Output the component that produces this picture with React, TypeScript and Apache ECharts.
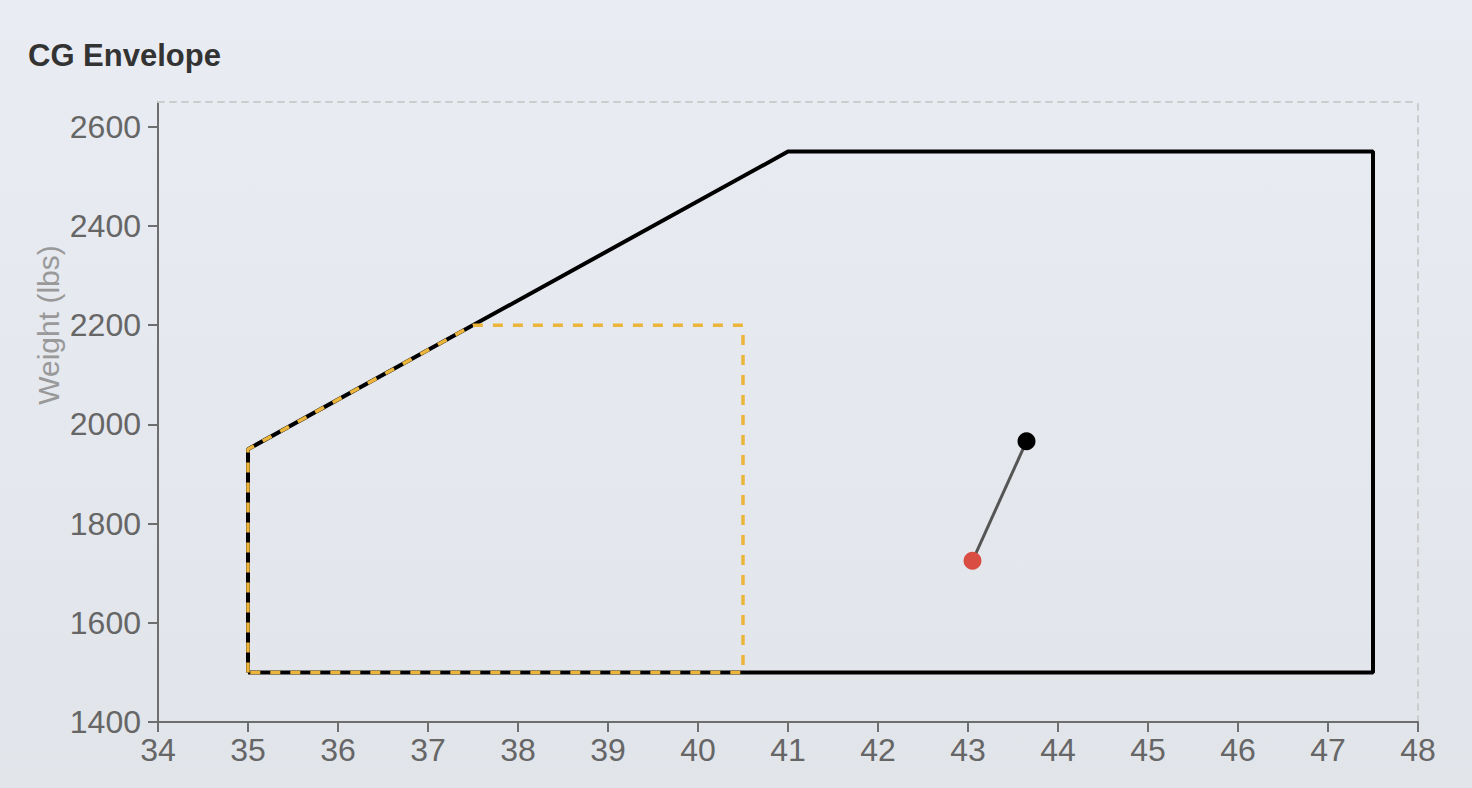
import React, { useEffect, useRef } from "react";
import * as echarts from "echarts";

const envelopePoints: number[][] = [
  [35, 1500], [35, 1950], [41, 2550], [47.5, 2550], [47.5, 1500], [35, 1500],
];
const utilityPoints: number[][] = [
  [35, 1500], [35, 1950], [37.5, 2200], [40.5, 2200], [40.5, 1500], [35, 1500],
];
const cgPath: number[][] = [
  [43.05, 1725], [43.65, 1966],
];
const startPoint: number[][] = [[43.05, 1725]];
const endPoint: number[][] = [[43.65, 1966]];
const yTicks: number[] = [1400, 1600, 1800, 2000, 2200, 2400, 2600];

const FONT = "'Liberation Sans', Arial, Helvetica, sans-serif";

export default function App() {
  const ref = useRef<HTMLDivElement>(null);
  useEffect(() => {
    document.body.style.margin = "0";
    if (!ref.current) return;
    const chart = echarts.init(ref.current, null, { renderer: "svg" });
    const axisCol = "#6e6e6e";
    chart.setOption({
      animation: false,
      title: {
        text: "CG Envelope",
        left: 23,
        top: 35,
        textStyle: { fontSize: 31, fontWeight: "bold", color: "#333", fontFamily: FONT },
      },
      grid: { left: 158, right: 54, top: 102, bottom: 66 },
      xAxis: [
        {
          type: "value",
          min: 34,
          max: 48,
          interval: 1,
          position: "bottom",
          axisLine: { lineStyle: { color: axisCol, width: 2 } },
          axisTick: { length: 10, lineStyle: { color: axisCol, width: 2 } },
          axisLabel: { fontSize: 32, color: "#666", margin: 12, fontFamily: FONT },
          splitLine: { show: false },
        },
        {
          type: "value",
          min: 34,
          max: 48,
          position: "top",
          axisLine: { show: true, lineStyle: { color: "#cccccc", width: 2, type: [6, 6] } },
          axisTick: { show: false },
          axisLabel: { show: false },
          splitLine: { show: false },
        },
      ],
      yAxis: [
        {
          type: "value",
          min: 1400,
          max: 2650,
          position: "left",
          axisLine: { show: true, lineStyle: { color: axisCol, width: 2 } },
          axisTick: { show: true, length: 10, lineStyle: { color: axisCol, width: 2 }, customValues: yTicks },
          axisLabel: {
            fontSize: 32,
            color: "#666",
            margin: 17,
            fontFamily: FONT,
            customValues: yTicks,
            formatter: (v: number) => String(v),
          },
          splitLine: { show: false },
        },
        {
          type: "value",
          min: 1400,
          max: 2650,
          position: "right",
          axisLine: { show: true, lineStyle: { color: "#cccccc", width: 2, type: [6, 6] } },
          axisTick: { show: false },
          axisLabel: { show: false },
          splitLine: { show: false },
        },
      ],
      graphic: [
        {
          type: "text",
          x: 48,
          y: 325,
          rotation: Math.PI / 2,
          style: {
            text: "Weight (lbs)",
            fontSize: 30,
            fill: "#999",
            fontFamily: FONT,
            align: "center",
            verticalAlign: "middle",
          },
        },
      ],
      series: [
        {
          name: "Normal",
          type: "line",
          data: envelopePoints,
          symbol: "none",
          lineStyle: { color: "#000", width: 4 },
          z: 2,
        },
        {
          name: "Utility",
          type: "line",
          data: utilityPoints,
          symbol: "none",
          lineStyle: { color: "#ebb43a", width: 3.5, type: [10, 10] },
          z: 3,
        },
        {
          name: "CG Path",
          type: "line",
          data: cgPath,
          symbol: "none",
          lineStyle: { color: "#555", width: 3 },
          z: 4,
        },
        {
          name: "Landing",
          type: "scatter",
          data: startPoint,
          symbolSize: 18,
          itemStyle: { color: "#d94d43", opacity: 1 },
          z: 5,
        },
        {
          name: "Takeoff",
          type: "scatter",
          data: endPoint,
          symbolSize: 18,
          itemStyle: { color: "#000", opacity: 1 },
          z: 5,
        },
      ],
    });
    return () => chart.dispose();
  }, []);
  return (
    <div
      ref={ref}
      style={{
        width: 1472,
        height: 788,
        background: "linear-gradient(180deg, #e9ecf2 0%, #e1e4e9 100%)",
      }}
    />
  );
}
